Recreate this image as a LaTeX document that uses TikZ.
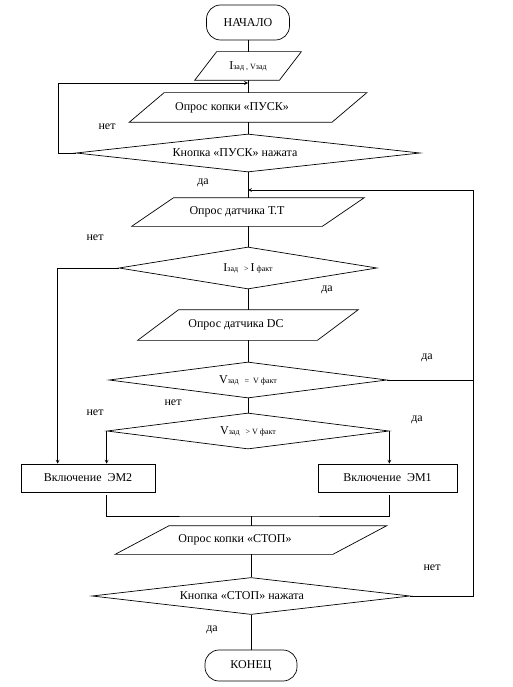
\documentclass[tikz,border=0pt]{standalone}
\usepackage{fontspec}
\setmainfont{Liberation Serif}
\usetikzlibrary{shapes.geometric,calc}
\tikzset{
	term/.style={draw,rectangle,rounded corners=14pt,inner sep=2pt},
	io/.style={rectangle,minimum height=28pt,inner sep=2pt,
		append after command={\pgfextra{\draw (\tikzlastnode.south west) -- ([xshift=#1]\tikzlastnode.north west) -- (\tikzlastnode.north east) -- ([xshift=-#1]\tikzlastnode.south east) -- cycle;}}},
	cond/.style={draw,diamond,aspect=9,inner sep=0pt},
	act/.style={draw,rectangle,minimum height=28pt,inner sep=2pt},
	lbl/.style={inner sep=0pt}
}
\newcommand{\sm}[1]{{\footnotesize #1}}
\begin{document}
\begin{tikzpicture}[x=1pt,y=-1pt,>=stealth,line width=0.7pt,font=\fontsize{12}{14}\selectfont]
	\useasboundingbox (0,0) rectangle (512,687);
	% column of blocks
	\node[term,minimum width=83pt,minimum height=35pt] (start) at (248,22.5) {НАЧАЛО};
	\node[io=22pt,minimum width=106pt] (in) at (248,66) {I\sm{зад , Vзад}};
	\node[io=35pt,minimum width=237pt,minimum height=29pt] (pusk) at (248,107.5) {Опрос копки «ПУСК»\hspace*{32pt}};
	\node[cond,minimum width=344pt,minimum height=38pt] (isPusk) at (248,153) {Кнопка «ПУСК» нажата\hspace*{26pt}};
	\node[io=42pt,minimum width=232pt] (tt) at (248,212) {Опрос датчика Т.Т\hspace*{22pt}};
	\node[cond,minimum width=258pt,minimum height=42pt] (isI) at (248,268) {I\sm{зад\ \ \ >\ }I\sm{ факт}};
	\node[io=41pt,minimum width=220pt,minimum height=30pt] (dc) at (248,325) {Опрос датчика DC\hspace*{24pt}};
	\node[cond,minimum width=278pt,minimum height=36pt] (isVeq) at (248,380) {V\sm{зад\ \ \ =\ \ V факт}};
	\node[cond,minimum width=282pt,minimum height=36pt] (isVgt) at (248,431) {V\sm{зад\ \ \ >\ V факт}};
	\node[act,minimum width=134pt] (em2) at (88,478) {Включение\ \ ЭМ2};
	\node[act,minimum width=139pt] (em1) at (387.5,478) {Включение\ \ ЭМ1};
	\node[io=54pt,minimum width=271pt] (stop) at (251,540) {Опрос копки «СТОП»\hspace*{32pt}};
	\node[cond,minimum width=318pt,minimum height=37pt] (isStop) at (251,596) {Кнопка «СТОП» нажата\hspace*{18pt}};
	\node[term,minimum width=92pt,minimum height=31pt] (end) at (251,665.5) {КОНЕЦ};
	% helper points
	\coordinate (j1) at (248,83);
	\coordinate (l1) at (58,83);
	\coordinate (j2) at (248,190);
	\coordinate (r1) at (473,190);
	\coordinate (m) at (251,516);
	% straight links
	\draw (start) -- (in);
	\draw (in) -- (pusk);
	\draw (pusk) -- (isPusk);
	\draw (isPusk) -- (tt);
	\draw (tt) -- (isI);
	\draw (isI) -- (dc);
	\draw (dc) -- (isVeq);
	\draw (isVeq) -- (isVgt);
	\draw (stop) -- (isStop);
	\draw (isStop) -- (end);
	% loops and branches
	\draw[->] (isPusk.west) -| (l1) -- (j1);
	\draw[->] (isStop.east) -| (r1) -- (j2);
	\draw (isVeq.east) -- (isVeq.east -| r1);
	\draw[->] (isI.west) -| ([xshift=37pt]em2.north west);
	\draw[->] (isVgt.west) -- (isVgt.west |- em2.north);
	\draw[->] (isVgt.east) -- (isVgt.east |- em1.north);
	\draw ($(em2.south -| isVgt.west)+(0,3)$) |- (m) -| ($(em1.south -| isVgt.east)+(0,3)$);
	\draw (m) -- (stop);
	% answers
	\node[lbl] (n1) at (107,127) {нет};
	\node[lbl] (y1) at (203,183) {да};
	\node[lbl] (n2) at (95,238) {нет};
	\node[lbl] (y2) at (327,290) {да};
	\node[lbl] (y3) at (427,358) {да};
	\node[lbl] (n3) at (173,403) {нет};
	\node[lbl] (n4) at (95,413) {нет};
	\node[lbl] (y4) at (417,420) {да};
	\node[lbl] (n5) at (432,568) {нет};
	\node[lbl] (y5) at (212,630) {да};
\end{tikzpicture}
\end{document}
